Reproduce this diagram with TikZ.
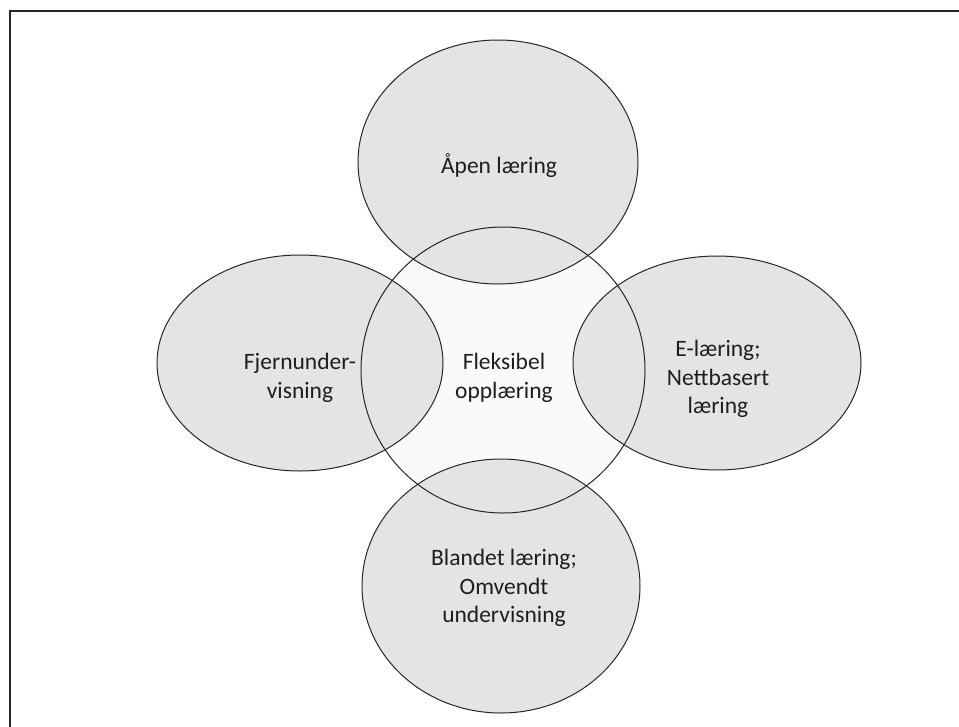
\documentclass[tikz,border=0pt]{standalone}
\usepackage{fontspec}
\setmainfont{Carlito}
\definecolor{ringfill}{HTML}{E4E4E4}
\definecolor{corefill}{HTML}{FAFAFA}
\definecolor{txt}{HTML}{1E1E1E}
\begin{document}
\begin{tikzpicture}[x=1pt,y=-1pt,
  ring/.style={fill=ringfill},
  outline/.style={draw=black!85,line width=1.0pt},
  lbl/.style={text=txt,align=center,font=\fontsize{23.5}{28.8}\selectfont,inner sep=0pt}]
\useasboundingbox (0,0) rectangle (959,726);
% frame
\draw[line width=1.6pt,black!85] (10,740) -- (10,11) -- (975,11);
% fills
\fill[corefill] (503,370) ellipse [x radius=142, y radius=143];
\fill[ring] (498,162) ellipse [x radius=140, y radius=122];
\fill[ring] (300,363) ellipse [x radius=143, y radius=108];
\fill[ring] (717,363) ellipse [x radius=144, y radius=107];
\fill[ring] (501,586) ellipse [x radius=139, y radius=127];
% outlines
\draw[outline] (498,162) ellipse [x radius=140, y radius=122];
\draw[outline] (300,363) ellipse [x radius=143, y radius=108];
\draw[outline] (717,363) ellipse [x radius=144, y radius=107];
\draw[outline] (501,586) ellipse [x radius=139, y radius=127];
\draw[outline] (503,370) ellipse [x radius=142, y radius=143];
% labels
\node[lbl] (top) at (499,166) {Åpen læring};
\node[lbl] (core) at (504,378) {Fleksibel\\opplæring};
\node[lbl] (left) at (300,378) {Fjernunder-\\visning};
\node[lbl] (right) at (718,379) {E-læring;\\Nettbasert\\læring};
\node[lbl] (bottom) at (504,588) {Blandet læring;\\Omvendt\\undervisning};
\end{tikzpicture}
\end{document}
